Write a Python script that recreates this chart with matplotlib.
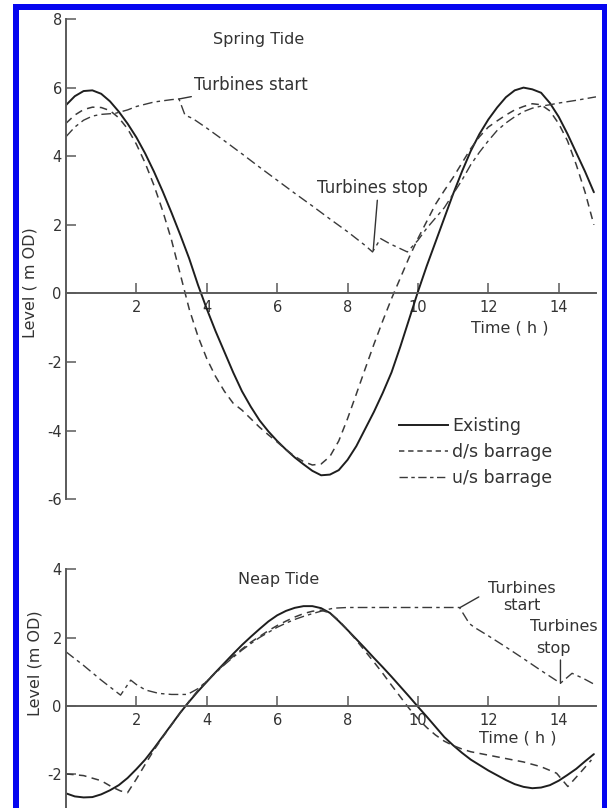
import matplotlib
matplotlib.use('Agg')
import matplotlib.pyplot as plt
from matplotlib.patches import Rectangle
from matplotlib.lines import Line2D

plt.rcParams['font.family'] = ['DejaVu Sans']
plt.rcParams['axes.unicode_minus'] = False

# ---------------- data ----------------
grid_t = [0, 0.25, 0.5, 0.75, 1.0, 1.25, 1.5, 1.75, 2.0, 2.25, 2.5, 2.75, 3.0, 3.25, 3.5,
          3.75, 4.0, 4.25, 4.5, 4.75, 5.0, 5.25, 5.5, 5.75, 6.0, 6.25, 6.5, 6.75, 7.0, 7.25,
          7.5, 7.75, 8.0, 8.25, 8.5, 8.75, 9.0, 9.25, 9.5, 9.75, 10.0, 10.25, 10.5, 10.75,
          11.0, 11.25, 11.5, 11.75, 12.0, 12.25, 12.5, 12.75, 13.0, 13.25, 13.5, 13.75, 14.0,
          14.25, 14.5, 14.75, 15.0]

spring_existing = [5.49, 5.75, 5.9, 5.92, 5.82, 5.6, 5.3, 4.95, 4.55, 4.08,
                   3.55, 2.97, 2.35, 1.7, 1.02, 0.25, -0.45, -1.1, -1.7, -2.3,
                   -2.85, -3.3, -3.7, -4.02, -4.3, -4.55, -4.78, -4.98, -5.17, -5.3,
                   -5.28, -5.15, -4.85, -4.45, -3.95, -3.45, -2.9, -2.3, -1.55, -0.75,
                   0.05, 0.8, 1.5, 2.2, 2.9, 3.55, 4.15, 4.65, 5.07, 5.42,
                   5.72, 5.92, 6.0, 5.95, 5.85, 5.55, 5.15, 4.65, 4.1, 3.55,
                   2.95]

spring_ds = [4.96, 5.2, 5.36, 5.43, 5.42, 5.33, 5.12, 4.8, 4.35, 3.8,
             3.15, 2.4, 1.55, 0.55, -0.45, -1.25, -1.9, -2.42, -2.85, -3.2,
             -3.4, -3.65, -3.9, -4.12, -4.33, -4.55, -4.75, -4.9, -5.0, -4.97,
             -4.75, -4.3, -3.65, -2.93, -2.2, -1.48, -0.8, -0.15, 0.45, 1.05,
             1.6, 2.1, 2.6, 3.0, 3.38, 3.8, 4.22, 4.57, 4.85, 5.03,
             5.2, 5.35, 5.45, 5.53, 5.5, 5.32, 4.95, 4.45, 3.75, 2.95,
             2.0]

spring_us_t = [0, 0.25, 0.5, 0.75, 1.0, 1.4, 1.75, 2.0, 2.5, 3.0, 3.21, 3.38, 3.6, 4.0,
               4.5, 5.0, 5.5, 6.0, 6.5, 7.0, 7.5, 8.0, 8.5, 8.71, 8.94, 9.2, 9.45, 9.7,
               10.0, 10.25, 10.5, 10.75, 11.0, 11.25, 11.5, 11.75, 12.0, 12.25, 12.5,
               12.75, 13.0, 13.25, 13.5, 13.75, 14.0, 14.5, 15.0, 15.06]
spring_us = [4.57, 4.85, 5.05, 5.17, 5.22, 5.25, 5.35, 5.45, 5.58, 5.65, 5.67, 5.2, 5.1, 4.82,
             4.45, 4.07, 3.68, 3.3, 2.92, 2.55, 2.17, 1.8, 1.4, 1.21, 1.6, 1.45, 1.33, 1.21,
             1.55, 1.9, 2.2, 2.5, 2.9, 3.3, 3.75, 4.12, 4.45, 4.75, 4.97,
             5.15, 5.3, 5.4, 5.46, 5.5, 5.55, 5.63, 5.72, 5.73]

neap_existing = [-2.57, -2.66, -2.69, -2.68, -2.6, -2.48, -2.33, -2.12, -1.86, -1.58,
                 -1.25, -0.9, -0.55, -0.2, 0.12, 0.42, 0.7, 0.98, 1.25, 1.52,
                 1.78, 2.02, 2.25, 2.47, 2.65, 2.78, 2.87, 2.92, 2.92, 2.86,
                 2.72, 2.48, 2.22, 1.95, 1.68, 1.4, 1.13, 0.85, 0.56, 0.27,
                 -0.03, -0.32, -0.62, -0.92, -1.16, -1.38, -1.58, -1.74, -1.9, -2.04,
                 -2.18, -2.3, -2.38, -2.42, -2.4, -2.33, -2.2, -2.03, -1.85, -1.63,
                 -1.42]

neap_ds_t = [0, 0.5, 1.0, 1.3, 1.55, 1.75, 2.0, 2.25, 2.5, 2.75, 3.0, 3.25, 3.5, 3.75,
             4.0, 4.25, 4.5, 4.75, 5.0, 5.25, 5.5, 5.75, 6.0, 6.25, 6.5, 6.75, 7.0, 7.25,
             7.5, 7.75, 8.0, 8.25, 8.5, 8.75, 9.0, 9.25, 9.5, 9.75, 10.0, 10.25, 10.5,
             10.75, 11.0, 11.25, 11.5, 12.0, 12.5, 13.0, 13.5, 13.94, 14.26, 14.6, 14.93]
neap_ds = [-2.0, -2.05, -2.2, -2.38, -2.5, -2.55, -2.15, -1.72, -1.3, -0.92, -0.56, -0.2, 0.13, 0.45,
           0.72, 0.98, 1.22, 1.45, 1.66, 1.86, 2.03, 2.2, 2.35, 2.48, 2.6, 2.7, 2.77, 2.8,
           2.72, 2.5, 2.22, 1.92, 1.6, 1.28, 0.95, 0.6, 0.26, -0.08, -0.38, -0.64, -0.86,
           -1.04, -1.17, -1.27, -1.35, -1.45, -1.55, -1.65, -1.79, -1.98, -2.37, -1.98, -1.59]

neap_us_t = [0, 0.5, 1.0, 1.55, 1.84, 2.0, 2.26, 2.64, 3.0, 3.45, 3.75, 4.0, 4.25, 4.5,
             4.75, 5.0, 5.25, 5.5, 5.75, 6.0, 6.25, 6.5, 6.75, 7.0, 7.35, 7.6, 8.0, 9.0,
             10.0, 11.18, 11.46, 11.6, 12.0, 12.5, 13.0, 13.5, 14.05, 14.38, 14.7, 15.06]
neap_us = [1.58, 1.18, 0.75, 0.31, 0.75, 0.62, 0.46, 0.36, 0.33, 0.33, 0.5, 0.72, 0.96, 1.2,
           1.42, 1.63, 1.82, 2.0, 2.15, 2.3, 2.42, 2.53, 2.62, 2.7, 2.8, 2.86, 2.88, 2.88,
           2.88, 2.88, 2.41, 2.3, 2.05, 1.72, 1.38, 1.03, 0.66, 0.95, 0.8, 0.6]

x_ticks = [2, 4, 6, 8, 10, 12, 14]
spring_yticks = [-6, -4, -2, 0, 2, 4, 6, 8]
neap_yticks = [-2, 0, 2, 4]
legend_labels = ['Existing', 'd/s barrage', 'u/s barrage']

# ---------------- styling ----------------
W, H = 607, 808
INK = '#1e1e1e'
AXC = '#5a5a5a'
TXT = '#333333'
DASH = (0, (5, 3.5))
DASHDOT = (0, (7, 3, 2.5, 3))

fig = plt.figure(figsize=(W / 100, H / 100), dpi=100)
fig.patch.set_facecolor('white')

# blue frame
blue = '#0505f0'
fig.add_artist(Rectangle((13 / W, 0), 5.5 / W, 1 - 4 / H, transform=fig.transFigure,
                         facecolor=blue, edgecolor='none', zorder=0))
fig.add_artist(Rectangle((13 / W, 1 - 9.5 / H), (607 - 13) / W, 5.5 / H, transform=fig.transFigure,
                         facecolor=blue, edgecolor='none', zorder=0))
fig.add_artist(Rectangle((601.5 / W, 0), 5.5 / W, 1 - 4 / H, transform=fig.transFigure,
                         facecolor=blue, edgecolor='none', zorder=0))

ax1 = fig.add_axes([66 / W, 1 - 499.3 / H, (596 - 66) / W, (499.3 - 19) / H])
ax2 = fig.add_axes([66 / W, 0, (596 - 66) / W, (808 - 569.3) / H])


def style(ax, ylim, yticks):
    ax.set_xlim(0, 15.06)
    ax.set_ylim(*ylim)
    ax.patch.set_alpha(0)
    for s in ['top', 'right']:
        ax.spines[s].set_visible(False)
    ax.spines['bottom'].set_position(('data', 0))
    for s in ['left', 'bottom']:
        ax.spines[s].set_color(AXC)
        ax.spines[s].set_linewidth(1.4)
    ax.set_xticks(x_ticks)
    ax.set_xticklabels([str(v) for v in x_ticks])
    ax.set_yticks(yticks)
    ax.set_yticklabels([str(v) for v in yticks])
    ax.tick_params(axis='x', direction='in', length=7, width=1.1, color=AXC, pad=5,
                   labelsize=10.5, labelcolor=TXT)
    ax.tick_params(axis='y', direction='in', length=7, width=1.1, color=AXC, pad=3,
                   labelsize=10.5, labelcolor=TXT)


style(ax1, (-6, 8), spring_yticks)
style(ax2, (-3.0, 4.0), neap_yticks)

# ---------------- spring tide ----------------
ax1.plot(grid_t, spring_existing, color=INK, lw=1.4, solid_capstyle='round')
ax1.plot(grid_t, spring_ds, color='#3a3a3a', lw=1.1, linestyle=DASH)
ax1.plot(spring_us_t, spring_us, color='#3a3a3a', lw=1.0, linestyle=DASHDOT)

ax1.text(5.48, 7.41, 'Spring Tide', ha='center', va='center', fontsize=11.5, color=TXT)
ax1.annotate('Turbines start', xy=(3.22, 5.67), xytext=(3.64, 6.07), fontsize=12,
             color=TXT, va='center', ha='left',
             arrowprops=dict(arrowstyle='-', color='#333', lw=1.0, shrinkA=0, shrinkB=0))
ax1.annotate('Turbines stop', xy=(8.73, 1.26), xytext=(7.12, 3.06), fontsize=12,
             color=TXT, va='center', ha='left',
             arrowprops=dict(arrowstyle='-', color='#333', lw=1.0, shrinkA=0, shrinkB=0,
                             relpos=(0.55, 0.0)))
ax1.text(12.61, -1.01, 'Time ( h )', ha='center', va='center', fontsize=11.5, color=TXT)

handles = [Line2D([], [], color=INK, lw=1.4),
           Line2D([], [], color='#3a3a3a', lw=1.1, linestyle=(0, (3.5, 2.5))),
           Line2D([], [], color='#3a3a3a', lw=1.0, linestyle=(0, (6, 2.5, 2.5, 2.5)))]
ax1.legend(handles, legend_labels, loc='upper left', bbox_to_anchor=(0.628, 0.172),
           frameon=False, fontsize=12.5, handlelength=2.85, handletextpad=0.2,
           labelspacing=0.47, borderpad=0, borderaxespad=0, labelcolor=TXT)

# ---------------- neap tide ----------------
ax2.plot(grid_t, neap_existing, color=INK, lw=1.4, solid_capstyle='round')
ax2.plot(neap_ds_t, neap_ds, color='#3a3a3a', lw=1.1, linestyle=DASH)
ax2.plot(neap_us_t, neap_us, color='#3a3a3a', lw=1.0, linestyle=DASHDOT)

ax2.text(6.05, 3.69, 'Neap Tide', ha='center', va='center', fontsize=11.5, color=TXT)
ax2.annotate('', xy=(11.2, 2.88), xytext=(11.73, 3.19),
             arrowprops=dict(arrowstyle='-', color='#333', lw=1.0, shrinkA=0, shrinkB=0))
ax2.text(12.95, 3.45, 'Turbines', ha='center', va='center', fontsize=11.5, color=TXT)
ax2.text(12.95, 2.93, 'start', ha='center', va='center', fontsize=11.5, color=TXT)
ax2.annotate('', xy=(14.05, 0.66), xytext=(14.05, 1.34),
             arrowprops=dict(arrowstyle='-', color='#333', lw=1.0, shrinkA=0, shrinkB=0))
ax2.text(14.15, 2.32, 'Turbines', ha='center', va='center', fontsize=11.5, color=TXT, clip_on=False)
ax2.text(13.85, 1.68, 'stop', ha='center', va='center', fontsize=11.5, color=TXT)
ax2.text(12.84, -0.96, 'Time ( h )', ha='center', va='center', fontsize=11.5, color=TXT)

# y labels
fig.text(30 / W, 1 - 283 / H, 'Level ( m OD)', rotation=90, ha='center', va='center',
         fontsize=11.5, color=TXT)
fig.text(35 / W, 1 - 663 / H, 'Level (m OD)', rotation=90, ha='center', va='center',
         fontsize=11.5, color=TXT)

fig.savefig('out.png', dpi=100, facecolor='white')
